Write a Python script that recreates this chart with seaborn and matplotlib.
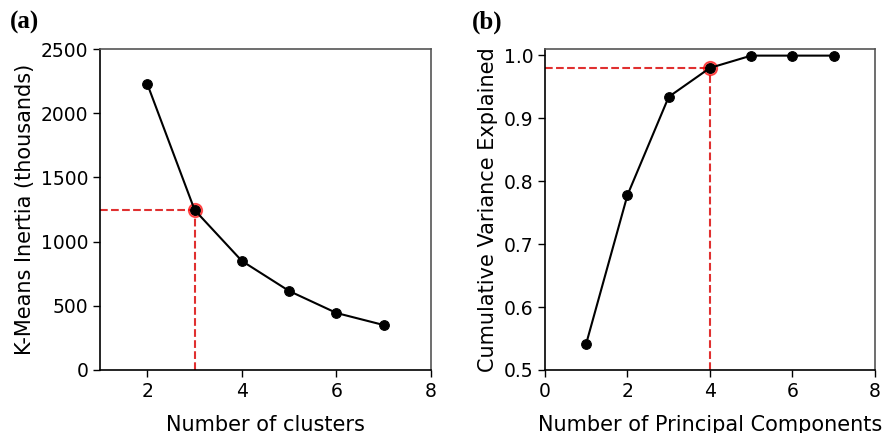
import matplotlib

matplotlib.use("Agg")
import matplotlib.pyplot as plt
import seaborn as sns

# panel (a): elbow curve
clusters = [2, 3, 4, 5, 6, 7]
inertia = [2227, 1246, 849, 615, 444, 350]
elbowCluster = 3

# panel (b): cumulative explained variance
components = [1, 2, 3, 4, 5, 6, 7]
cumVariance = [0.542, 0.778, 0.934, 0.980, 0.9995, 0.9995, 0.9995]
elbowComponent = 4

sns.set_style("ticks")
plt.rcParams["font.family"] = ["DejaVu Sans"]
plt.rcParams["text.color"] = "black"
plt.rcParams["axes.labelcolor"] = "black"
plt.rcParams["xtick.color"] = "black"
plt.rcParams["ytick.color"] = "black"

fig = plt.figure(figsize=(8.83, 4.33), dpi=100)
axA = fig.add_axes([0.1133, 0.1455, 0.3749, 0.7413])
axB = fig.add_axes([0.6172, 0.1455, 0.3737, 0.7413])


def plotElbow(ax, xs, ys, xElbow, xMin, yMin) -> None:
    yElbow = ys[xs.index(xElbow)]
    ax.plot([xMin, xElbow], [yElbow, yElbow], ls="--", color="#e03030", lw=1.5, zorder=1)
    ax.plot([xElbow, xElbow], [yMin, yElbow], ls="--", color="#e03030", lw=1.5, zorder=1)
    ax.plot([xElbow], [yElbow], "o", color="red", alpha=0.6, markersize=10, zorder=2)
    sns.lineplot(
        x=xs,
        y=ys,
        ax=ax,
        color="black",
        marker="o",
        markersize=7,
        markeredgecolor="black",
        lw=1.5,
        zorder=3,
    )


plotElbow(axA, clusters, inertia, elbowCluster, 1, 0)
axA.set_xlim(1, 8)
axA.set_ylim(0, 2500)
axA.set_xticks([2, 4, 6, 8])
axA.set_yticks([0, 500, 1000, 1500, 2000, 2500])
axA.set_xlabel("Number of clusters", fontsize=15, labelpad=10)
axA.set_ylabel("K-Means Inertia (thousands)", fontsize=15)

plotElbow(axB, components, cumVariance, elbowComponent, 0, 0.5)
axB.set_xlim(0, 8)
axB.set_ylim(0.5, 1.01)
axB.set_xticks([0, 2, 4, 6, 8])
axB.set_yticks([0.5, 0.6, 0.7, 0.8, 0.9, 1.0])
axB.set_xlabel("Number of Principal Components", fontsize=15, labelpad=10)
axB.set_ylabel("Cumulative Variance Explained", fontsize=15)

for ax in (axA, axB):
    ax.tick_params(labelsize=13.5, length=5, width=1, color="black")
    for side in ("left", "bottom"):
        ax.spines[side].set_color("black")
        ax.spines[side].set_linewidth(1.2)
    for side in ("top", "right"):
        ax.spines[side].set_color("#555555")
        ax.spines[side].set_linewidth(1.2)

fig.text(0.011, 0.948, "(a)", fontsize=18, fontweight="bold", family="Liberation Serif", va="center")
fig.text(0.534, 0.948, "(b)", fontsize=18, fontweight="bold", family="Liberation Serif", va="center")

fig.savefig("out.png", dpi=100)
